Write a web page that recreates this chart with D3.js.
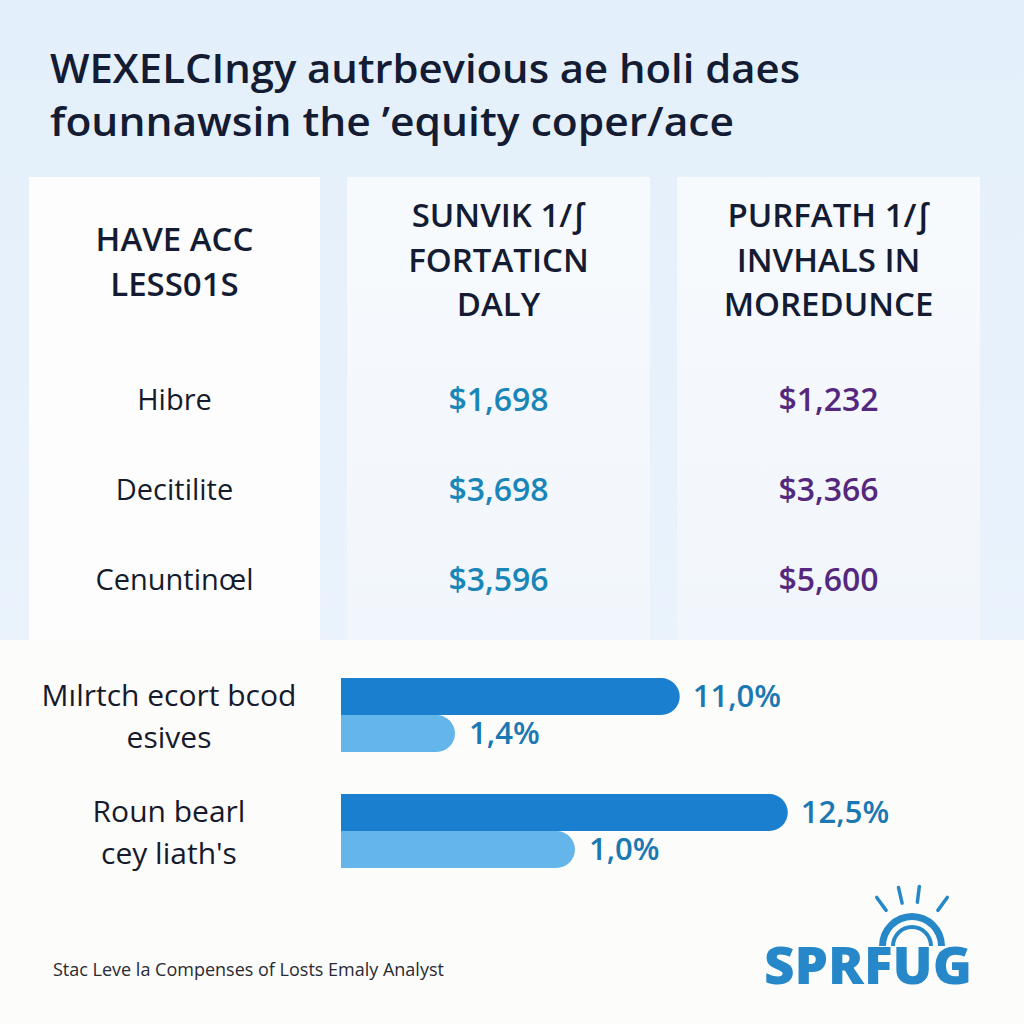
<!DOCTYPE html>
<html><head><meta charset="utf-8">
<script src="https://cdn.jsdelivr.net/npm/d3@7"></script>
<style>html,body{margin:0;padding:0;background:#fff}svg{display:block}</style>
</head><body>
<script>
// ---- data ----
const titleLines = ["WEXELCIngy autrbevious ae holi daes", "founnawsin the \u2019equity coper/ace"];
const columnHeaders = [["HAVE ACC", "LESS01S"], ["SUNVIK 1/\u222B", "FORTATICN", "DALY"], ["PURFATH 1/\u222B", "INVHALS IN", "MOREDUNCE"]];
const rowLabels = ["Hibre", "Decitilite", "Cenuntin\u0153l"];
const seriesA = ["$1,698", "$3,698", "$3,596"];
const seriesB = ["$1,232", "$3,366", "$5,600"];
const barCategories = [["M\u0131lrtch ecort bcod", "esives"], ["Roun bearl", "cey liath's"]];
const darkLabels = ["11,0%", "12,5%"];
const lightLabels = ["1,4%", "1,0%"];
// bar extents as drawn (share of bar track, %)
const darkExtent = [51.4, 67.8];
const lightExtent = [17.3, 35.5];
const footnote = "Stac Leve la Compenses of Losts Emaly Analyst";
const logoText = "SPRFUG";

// ---- layout ----
const W = 1024, H = 1024;
const FONT = "Open Sans, sans-serif";
const panelLeft = [29, 347, 677], panelWidth = [291, 303, 303];

const svg = d3.select("body").append("svg").attr("width", W).attr("height", H);
const defs = svg.append("defs");
const bg = defs.append("linearGradient").attr("id", "bg").attr("x1", 0).attr("y1", 0).attr("x2", 0).attr("y2", 1);
bg.append("stop").attr("offset", "0%").attr("stop-color", "#e3effa");
bg.append("stop").attr("offset", "100%").attr("stop-color", "#eaf3fc");
const pg = defs.append("linearGradient").attr("id", "pg").attr("x1", 0).attr("y1", 0).attr("x2", 0).attr("y2", 1);
pg.append("stop").attr("offset", "0%").attr("stop-color", "#f7fafd");
pg.append("stop").attr("offset", "100%").attr("stop-color", "#f1f6fc");

svg.append("rect").attr("width", W).attr("height", 640).attr("fill", "url(#bg)");
svg.append("rect").attr("y", 640).attr("width", W).attr("height", H - 640).attr("fill", "#fcfcfb");

// title
const titleWidths = [750, 684];
svg.append("g").selectAll("text").data(titleLines).join("text")
  .attr("x", 50).attr("y", (d, i) => 83 + i * 53)
  .attr("font-family", FONT).attr("font-size", 39).attr("font-weight", 600)
  .attr("textLength", (d, i) => titleWidths[i]).attr("lengthAdjust", "spacingAndGlyphs")
  .attr("fill", "#141c33").text(d => d);

// table columns
const colCenter = i => panelLeft[i] + panelWidth[i] / 2;
const cols = svg.append("g").selectAll("g").data(columnHeaders).join("g");
cols.append("rect").attr("x", (d, i) => panelLeft[i]).attr("y", 177).attr("width", (d, i) => panelWidth[i]).attr("height", 463)
  .attr("fill", (d, i) => i === 0 ? "#fdfdfd" : "url(#pg)");
cols.each(function (lines, i) {
  const g = d3.select(this);
  const y0 = lines.length === 2 ? 251 : 227;
  g.selectAll("text.h").data(lines).join("text").attr("class", "h")
    .attr("x", colCenter(i)).attr("y", (d, j) => y0 + j * 44.5)
    .attr("text-anchor", "middle").attr("font-family", FONT)
    .attr("font-size", 33).attr("font-weight", 600).attr("fill", "#141c33").text(d => d);
});

const rowY = d3.scalePoint().domain(d3.range(rowLabels.length)).range([400, 580]);
const cellG = svg.append("g");
cellG.selectAll("text.r").data(rowLabels).join("text").attr("class", "r")
  .attr("x", colCenter(0)).attr("y", (d, i) => rowY(i)).attr("dy", "0.35em")
  .attr("text-anchor", "middle").attr("font-family", FONT).attr("font-size", 29)
  .attr("fill", "#141c2b").text(d => d);
cellG.selectAll("text.a").data(seriesA).join("text").attr("class", "a")
  .attr("x", colCenter(1)).attr("y", (d, i) => rowY(i)).attr("dy", "0.35em")
  .attr("text-anchor", "middle").attr("font-family", FONT).attr("font-size", 32).attr("font-weight", 600)
  .attr("fill", "#1a86b8").text(d => d);
cellG.selectAll("text.b").data(seriesB).join("text").attr("class", "b")
  .attr("x", colCenter(2)).attr("y", (d, i) => rowY(i)).attr("dy", "0.35em")
  .attr("text-anchor", "middle").attr("font-family", FONT).attr("font-size", 32).attr("font-weight", 600)
  .attr("fill", "#55287e").text(d => d);

// bars
const x = d3.scaleLinear().domain([0, 100]).range([341, 1000]);
const groupY = d3.scalePoint().domain(d3.range(barCategories.length)).range([678, 794]);
const bh = 37;
function barPath(x0, x1, y, h) {
  const r = h / 2;
  return `M${x0},${y}H${x1 - r}A${r},${r} 0 0 1 ${x1 - r},${y + h}H${x0}Z`;
}
const bars = svg.append("g").selectAll("g").data(barCategories).join("g");
bars.append("path").attr("d", (d, i) => barPath(x(0), x(darkExtent[i]), groupY(i), bh)).attr("fill", "#1b7fcf");
bars.append("path").attr("d", (d, i) => barPath(x(0), x(lightExtent[i]), groupY(i) + bh, bh)).attr("fill", "#63b5ea");
bars.append("text").attr("x", (d, i) => x(darkExtent[i]) + 13).attr("y", (d, i) => groupY(i) + bh / 2).attr("dy", "0.35em")
  .attr("font-family", FONT).attr("font-size", 31).attr("font-weight", 600).attr("fill", "#1b78b2")
  .text((d, i) => darkLabels[i]);
bars.append("text").attr("x", (d, i) => x(lightExtent[i]) + 14).attr("y", (d, i) => groupY(i) + bh * 1.5).attr("dy", "0.35em")
  .attr("font-family", FONT).attr("font-size", 31).attr("font-weight", 600).attr("fill", "#1b78b2")
  .text((d, i) => lightLabels[i]);
bars.each(function (lines, i) {
  d3.select(this).selectAll("text.c").data(lines).join("text").attr("class", "c")
    .attr("x", 169).attr("y", (d, j) => groupY(i) + 17 + j * 42).attr("dy", "0.35em")
    .attr("text-anchor", "middle").attr("font-family", FONT).attr("font-size", 30)
    .attr("fill", "#161a2c").text(d => d);
});

// footnote
svg.append("text").attr("x", 53).attr("y", 976).attr("font-family", FONT).attr("font-size", 18)
  .attr("fill", "#2a2a33").text(footnote);

// logo
const logo = svg.append("g").attr("fill", "none").attr("stroke", "#2688c8").attr("stroke-linecap", "round");
const cx = 912, cy = 946;
[-36, -13, 7, 36].forEach(a => {
  const rad = (a - 90) * Math.PI / 180;
  logo.append("line").attr("x1", cx + Math.cos(rad) * 44).attr("y1", cy + Math.sin(rad) * 44)
    .attr("x2", cx + Math.cos(rad) * 60).attr("y2", cy + Math.sin(rad) * 60).attr("stroke-width", 3.5);
});
[[26, 33], [17, 21]].forEach(([ri, ro]) => {
  logo.append("path").attr("d", d3.arc()({ innerRadius: ri, outerRadius: ro, startAngle: -Math.PI / 2, endAngle: Math.PI / 2 }))
    .attr("transform", `translate(${cx},${cy})`).attr("fill", "#2688c8").attr("stroke", "none");
});
svg.append("text").attr("x", 868).attr("y", 984).attr("text-anchor", "middle")
  .attr("font-family", FONT).attr("font-size", 52).attr("font-weight", 800)
  .attr("fill", "#2688c8").attr("textLength", 208).attr("lengthAdjust", "spacingAndGlyphs").text(logoText);
</script>
</body></html>
